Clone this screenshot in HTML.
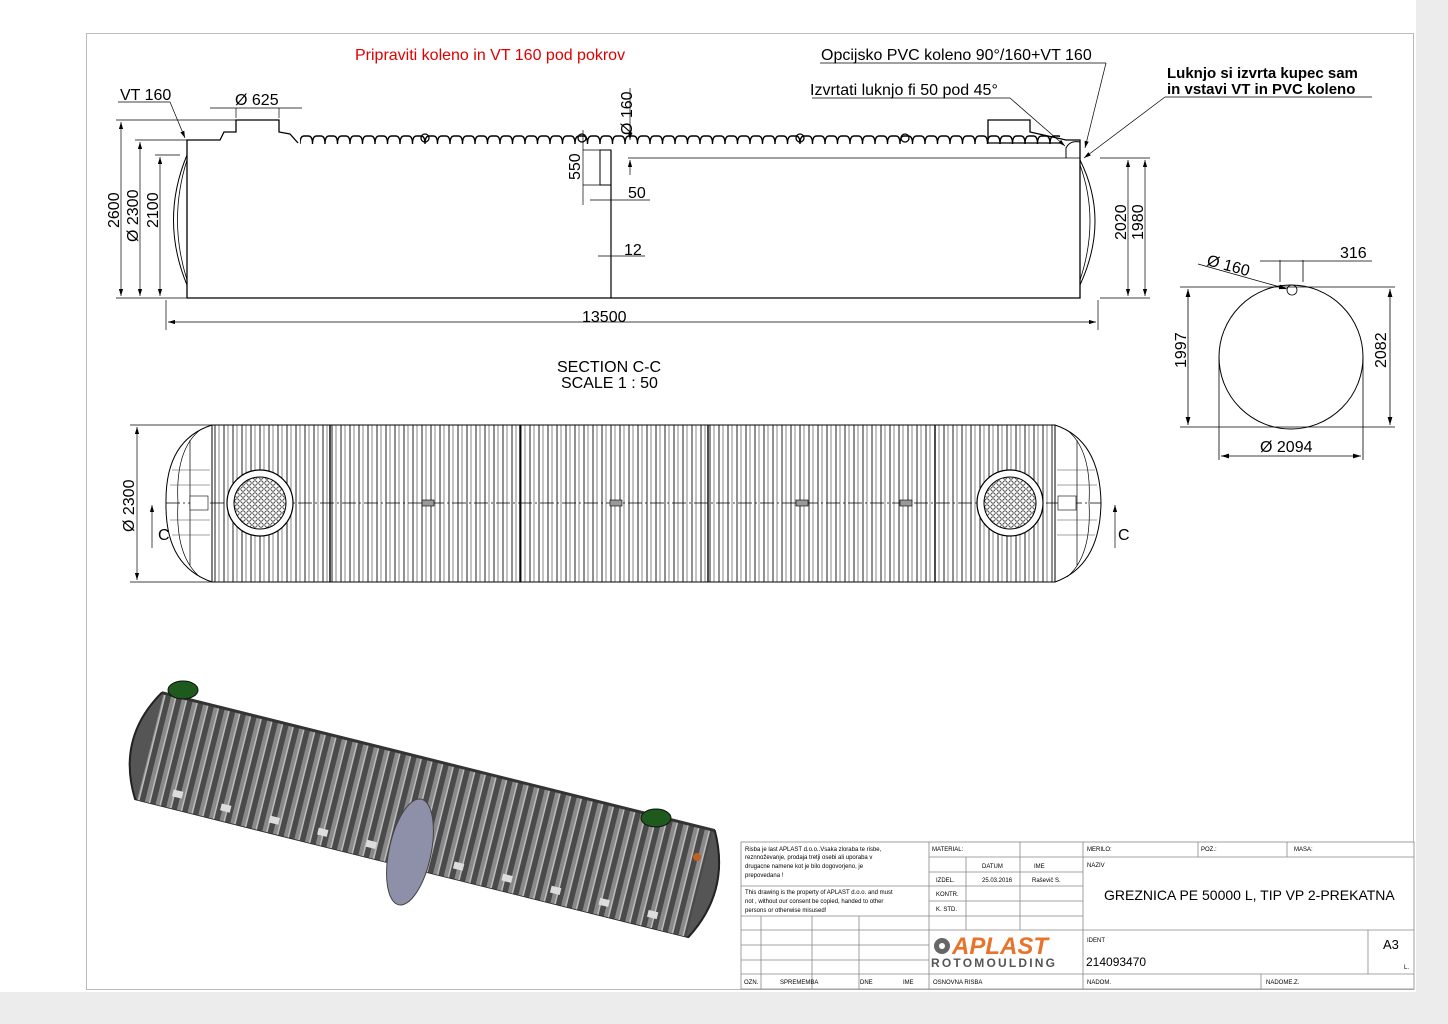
<!DOCTYPE html>
<html><head><meta charset="utf-8"><style>
html,body{margin:0;padding:0;background:#ececec;}
svg{display:block;font-family:"Liberation Sans","DejaVu Sans",sans-serif;}
</style></head><body>
<svg width="1448" height="1024" viewBox="0 0 1448 1024" xmlns="http://www.w3.org/2000/svg">
<defs>
<pattern id="wave" x="300" y="130" width="12.5" height="25" patternUnits="userSpaceOnUse">
<path d="M0 14 Q0 6 4 6 L8.5 6 Q12.5 6 12.5 14" fill="none" stroke="#000" stroke-width="1.4"/>
</pattern>
<pattern id="ribs" x="214" y="0" width="9" height="200" patternUnits="userSpaceOnUse">
<line x1="1" y1="0" x2="1" y2="200" stroke="#222" stroke-width="1"/>
<line x1="5" y1="0" x2="5" y2="200" stroke="#555" stroke-width="0.7"/>
</pattern>
<pattern id="ribs3d" width="11" height="200" patternUnits="userSpaceOnUse">
<rect width="11" height="200" fill="#4a4a4a"/>
<rect x="0" width="4" height="200" fill="#8a8a8a"/>
<rect x="4" width="1.5" height="200" fill="#bdbdbd"/>
</pattern>
<pattern id="grid" width="6" height="6" patternUnits="userSpaceOnUse">
<circle cx="3" cy="3" r="2.2" fill="none" stroke="#333" stroke-width="0.8"/>
</pattern>
<marker id="ar" viewBox="0 0 10 6" refX="10" refY="3" markerWidth="10" markerHeight="6" orient="auto-start-reverse"><path d="M0 0L10 3L0 6z" fill="#000"/></marker>
</defs>
<rect x="0" y="0" width="1416" height="992" fill="#fff"/>
<rect x="86.5" y="33.5" width="1327" height="956" fill="none" stroke="#bbb"/>

<!-- SECTION VIEW -->
<g stroke="#000" fill="none" stroke-width="1.3">
<path d="M187 298 L187 140 L220 140 L224 132 L236 132 L236 120 L279 120 L279 132 L290 134 L298 143"/>
<rect x="300" y="135" width="760" height="15" fill="url(#wave)" stroke="none"/>
<path d="M1060 143 L988 143 L988 120 L1030 120 L1030 132 L1066 140 L1080 140 L1080 298 L187 298"/>
<path d="M187 155 Q160 220 187 285" stroke-width="1"/>
<path d="M187 160 Q168 220 187 280" stroke-width="0.8"/>
<path d="M1080 160 Q1110 220 1080 285" stroke-width="1"/>
<path d="M1080 165 Q1100 220 1080 280" stroke-width="0.8"/>
<rect x="600" y="150" width="11" height="35" stroke-width="1"/>
<line x1="611" y1="150" x2="611" y2="298" stroke-width="1.2"/>
<line x1="628" y1="158" x2="1080" y2="158" stroke-width="0.8"/>
<path d="M1066 158 L1066 148 Q1070 140 1080 142" stroke-width="1"/>
<circle cx="425" cy="138" r="4"/><circle cx="582" cy="138" r="4"/><circle cx="800" cy="138" r="4"/><circle cx="905" cy="138" r="4"/>
</g>
<!-- section dims -->
<g stroke="#000" stroke-width="0.7" fill="none">
<line x1="116" y1="120" x2="236" y2="120"/><line x1="116" y1="298" x2="187" y2="298"/>
<line x1="121" y1="122" x2="121" y2="296" marker-start="url(#ar)" marker-end="url(#ar)"/>
<line x1="135" y1="140" x2="187" y2="140"/>
<line x1="140" y1="142" x2="140" y2="296" marker-start="url(#ar)" marker-end="url(#ar)"/>
<line x1="155" y1="155" x2="180" y2="155"/>
<line x1="160" y1="157" x2="160" y2="296" marker-start="url(#ar)" marker-end="url(#ar)"/>
<line x1="166" y1="300" x2="166" y2="330"/>
<line x1="168" y1="322" x2="1096" y2="322" marker-start="url(#ar)" marker-end="url(#ar)"/>
<line x1="1098" y1="300" x2="1098" y2="330"/>
<line x1="118" y1="102" x2="170" y2="102"/><line x1="170" y1="102" x2="185" y2="138" marker-end="url(#ar)"/>
<line x1="210" y1="108" x2="302" y2="108"/>
<line x1="236" y1="108" x2="236" y2="118"/><line x1="279" y1="108" x2="279" y2="118"/>
<line x1="630" y1="88" x2="630" y2="140" marker-end="url(#ar)"/>
<line x1="630" y1="175" x2="630" y2="160" marker-end="url(#ar)"/>
<line x1="583" y1="130" x2="583" y2="205"/>
<line x1="583" y1="150" x2="600" y2="150"/>
<line x1="583" y1="185" x2="600" y2="185"/>
<line x1="590" y1="200" x2="650" y2="200"/>
<line x1="598" y1="256" x2="645" y2="256"/>
<line x1="1100" y1="158" x2="1150" y2="158"/><line x1="1100" y1="298" x2="1150" y2="298"/>
<line x1="1128" y1="160" x2="1128" y2="296" marker-start="url(#ar)" marker-end="url(#ar)"/>
<line x1="1145" y1="160" x2="1145" y2="296" marker-start="url(#ar)" marker-end="url(#ar)"/>
<line x1="812" y1="98" x2="1010" y2="98"/><line x1="1010" y1="98" x2="1065" y2="146" marker-end="url(#ar)"/>
<line x1="820" y1="63" x2="1106" y2="63"/><line x1="1106" y1="63" x2="1085" y2="148" marker-end="url(#ar)"/>
<line x1="1165" y1="97" x2="1372" y2="97"/><line x1="1165" y1="97" x2="1084" y2="158" marker-end="url(#ar)"/>
</g>
<g font-size="16" fill="#000">
<text x="355" y="60" fill="#e00000">Pripraviti koleno in VT 160 pod pokrov</text>
<text x="821" y="60">Opcijsko PVC koleno 90°/160+VT 160</text>
<text x="810" y="95">Izvrtati luknjo fi 50 pod 45°</text>
<text x="1167" y="78" font-weight="bold" font-size="15">Luknjo si izvrta kupec sam</text>
<text x="1167" y="94" font-weight="bold" font-size="15">in vstavi VT in PVC koleno</text>
<text x="120" y="100">VT 160</text>
<text x="235" y="105">Ø 625</text>
<text x="628" y="198">50</text>
<text x="624" y="255">12</text>
<text x="582" y="322">13500</text>
<text x="557" y="372">SECTION C-C</text>
<text x="561" y="388">SCALE 1 : 50</text>
<text transform="translate(119 228) rotate(-90)">2600</text>
<text transform="translate(138 242) rotate(-90)">Ø 2300</text>
<text transform="translate(158 228) rotate(-90)">2100</text>
<text transform="translate(580 180) rotate(-90)">550</text>
<text transform="translate(632 135) rotate(-90)">Ø 160</text>
<text transform="translate(1126 240) rotate(-90)">2020</text>
<text transform="translate(1143 240) rotate(-90)">1980</text>
<text x="1340" y="258">316</text>
<text transform="translate(1206 265) rotate(15)">Ø 160</text>
<text transform="translate(1186 368) rotate(-90)">1997</text>
<text transform="translate(1386 368) rotate(-90)">2082</text>
<text x="1260" y="452">Ø 2094</text>
<text transform="translate(134 532) rotate(-90)">Ø 2300</text>
<text x="158" y="540">C</text>
<text x="1118" y="540">C</text>
</g>

<!-- END VIEW -->
<g stroke="#000" fill="none" stroke-width="0.8">
<circle cx="1291" cy="357" r="72" stroke-width="1"/>
<circle cx="1292" cy="290" r="5"/>
<line x1="1180" y1="287" x2="1395" y2="287"/><line x1="1180" y1="427" x2="1395" y2="427"/>
<line x1="1188" y1="289" x2="1188" y2="425" marker-start="url(#ar)" marker-end="url(#ar)"/>
<line x1="1390" y1="289" x2="1390" y2="425" marker-start="url(#ar)" marker-end="url(#ar)"/>
<line x1="1219" y1="357" x2="1219" y2="460"/><line x1="1363" y1="357" x2="1363" y2="460"/>
<line x1="1221" y1="456" x2="1361" y2="456" marker-start="url(#ar)" marker-end="url(#ar)"/>
<line x1="1280" y1="260" x2="1280" y2="282"/><line x1="1303" y1="260" x2="1303" y2="282"/>
<line x1="1260" y1="261" x2="1372" y2="261"/>
<line x1="1198" y1="264" x2="1287" y2="289" marker-end="url(#ar)"/>
</g>

<!-- PLAN VIEW -->
<g stroke="#000" fill="none">
<rect x="212" y="425" width="843" height="157" fill="url(#ribs)" stroke-width="1"/>
<path d="M212 425 Q165 440 166 503 Q165 566 212 582" stroke-width="1"/>
<path d="M1055 425 Q1100 440 1101 503 Q1100 566 1055 582" stroke-width="1"/>
<path d="M200 430 Q175 450 178 503 Q175 556 200 577 M190 440 L190 566" stroke-width="0.7"/>
<path d="M1067 430 Q1092 450 1089 503 Q1092 556 1067 577 M1077 440 L1077 566" stroke-width="0.7"/>
<g stroke="#444" stroke-width="0.6"><path d="M172 470 L210 470 M170 485 L210 485 M170 520 L210 520 M172 535 L210 535 M1057 470 L1095 470 M1057 485 L1097 485 M1057 520 L1097 520 M1057 535 L1095 535"/></g>
<line x1="330" y1="425" x2="330" y2="582" stroke-width="1.4"/>
<line x1="520" y1="425" x2="520" y2="582" stroke-width="1.4"/>
<line x1="708" y1="425" x2="708" y2="582" stroke-width="1.4"/>
<line x1="935" y1="425" x2="935" y2="582" stroke-width="1.4"/>
<line x1="166" y1="503" x2="1101" y2="503" stroke-width="0.8" stroke-dasharray="14 3 2 3"/>
<circle cx="260" cy="503" r="33" fill="#fff" stroke-width="1.2"/>
<circle cx="260" cy="503" r="26" fill="url(#grid)" stroke-width="1"/>
<circle cx="1010" cy="503" r="33" fill="#fff" stroke-width="1.2"/>
<circle cx="1010" cy="503" r="26" fill="url(#grid)" stroke-width="1"/>
<g fill="#999" stroke-width="0.6"><rect x="422" y="500" width="12" height="6"/><rect x="610" y="500" width="12" height="6"/><rect x="796" y="500" width="12" height="6"/><rect x="900" y="500" width="12" height="6"/><rect x="190" y="496" width="18" height="14" fill="#fff"/><rect x="1058" y="496" width="18" height="14" fill="#fff"/></g>
</g>
<g stroke="#000" stroke-width="0.7" fill="none">
<line x1="130" y1="425" x2="212" y2="425"/><line x1="130" y1="582" x2="212" y2="582"/>
<line x1="137" y1="427" x2="137" y2="580" marker-start="url(#ar)" marker-end="url(#ar)"/>
<line x1="152" y1="548" x2="152" y2="505" marker-end="url(#ar)"/>
<line x1="1115" y1="548" x2="1115" y2="505" marker-end="url(#ar)"/>
</g>

<!-- 3D VIEW -->
<g transform="translate(425 815) rotate(14)">
<path d="M-285 -55 Q-318 0 -285 55 L285 55 Q315 0 285 -55 Z" fill="#555" stroke="#222" stroke-width="1.5"/>
<rect x="-283" y="-55" width="566" height="110" fill="url(#ribs3d)"/>
<path d="M-285 -55 Q-318 0 -285 55" fill="none" stroke="#222" stroke-width="2"/>
<path d="M285 -55 Q315 0 285 55" fill="none" stroke="#222" stroke-width="2"/>
<line x1="-285" y1="-55" x2="285" y2="-55" stroke="#333" stroke-width="3"/>
<g fill="#ddd"><rect x="-250" y="36" width="10" height="7"/><rect x="-200" y="38" width="10" height="7"/><rect x="-150" y="38" width="10" height="7"/><rect x="-100" y="38" width="10" height="7"/><rect x="-50" y="38" width="10" height="7"/><rect x="40" y="38" width="10" height="7"/><rect x="90" y="38" width="10" height="7"/><rect x="140" y="38" width="10" height="7"/><rect x="190" y="38" width="10" height="7"/><rect x="240" y="38" width="10" height="7"/></g>
</g>
<ellipse cx="410" cy="852" rx="21" ry="54" transform="rotate(12 410 852)" fill="#8d90a8" stroke="#444"/>
<ellipse cx="183" cy="690" rx="15" ry="9" fill="#1e5a1e" stroke="#111"/>
<ellipse cx="656" cy="818" rx="15" ry="9" fill="#1e5a1e" stroke="#111"/>
<circle cx="697" cy="857" r="4" fill="#c06020"/>

<!-- TITLE BLOCK -->
<g stroke="#888" stroke-width="0.8" fill="none">
<rect x="741" y="842" width="673" height="147" fill="#fff"/>
<line x1="929" y1="842" x2="929" y2="989"/>
<line x1="1083" y1="842" x2="1083" y2="989"/>
<line x1="1083" y1="857" x2="1414" y2="857"/>
<line x1="1198" y1="842" x2="1198" y2="857"/><line x1="1287" y1="842" x2="1287" y2="857"/>
<line x1="929" y1="857" x2="1083" y2="857"/>
<line x1="966" y1="857" x2="966" y2="930"/><line x1="1020" y1="842" x2="1020" y2="930"/>
<line x1="929" y1="872" x2="1083" y2="872"/><line x1="741" y1="886" x2="929" y2="886"/>
<line x1="929" y1="886" x2="1083" y2="886"/><line x1="929" y1="901" x2="1083" y2="901"/>
<line x1="741" y1="916" x2="1083" y2="916"/>
<line x1="741" y1="930" x2="1414" y2="930"/>
<line x1="741" y1="945" x2="929" y2="945"/><line x1="741" y1="960" x2="929" y2="960"/>
<line x1="741" y1="974" x2="1414" y2="974"/>
<line x1="761" y1="916" x2="761" y2="989"/><line x1="812" y1="916" x2="812" y2="989"/><line x1="859" y1="916" x2="859" y2="989"/>
<line x1="1368" y1="930" x2="1368" y2="974"/><line x1="1261" y1="974" x2="1261" y2="989"/>
</g>
<g font-size="6" fill="#000">
<text x="745" y="851">Risba je last APLAST d.o.o..Vsaka zloraba te risbe,</text>
<text x="745" y="859">reznnoževanje, prodaja tretji osebi ali uporaba v</text>
<text x="745" y="868">drugacne namene kot je bilo dogovorjeno, je</text>
<text x="745" y="877">prepovedana !</text>
<text x="745" y="894">This drawing is the property of APLAST d.o.o. and must</text>
<text x="745" y="903">not , without our consent be copied, handed to other</text>
<text x="745" y="912">persons or otherwise misused!</text>
<text x="932" y="851">MATERIAL:</text>
<text x="982" y="868">DATUM</text><text x="1034" y="868">IME</text>
<text x="936" y="882">IZDEL.</text><text x="982" y="882">25.03.2016</text><text x="1032" y="882">Raševič S.</text>
<text x="936" y="896">KONTR.</text><text x="936" y="911">K. STD.</text>
<text x="1087" y="851">MERILO:</text><text x="1201" y="851">POZ.:</text><text x="1294" y="851">MASA:</text>
<text x="1087" y="867">NAZIV</text>
<text x="1087" y="942">IDENT</text>
<text x="1404" y="969">L.</text>
<text x="744" y="984">OZN.</text><text x="780" y="984">SPREMEMBA</text><text x="860" y="984">DNE</text><text x="903" y="984">IME</text>
<text x="933" y="984">OSNOVNA RISBA</text><text x="1087" y="984">NADOM.</text><text x="1266" y="984">NADOME.Z.</text>
</g>
<text x="1104" y="900" font-size="14">GREZNICA  PE 50000 L, TIP VP  2-PREKATNA</text>
<text x="1086" y="966" font-size="12">214093470</text>
<text x="1383" y="949" font-size="13">A3</text>
<circle cx="942" cy="946" r="8" fill="#666"/><circle cx="942" cy="946" r="3" fill="#fff"/>
<text x="952" y="954" font-size="24" font-weight="bold" fill="#e8742c" font-style="italic">APLAST</text>
<text x="931" y="967" font-size="12" fill="#555" letter-spacing="2.2" font-weight="bold">ROTOMOULDING</text>
</svg>
</body></html>
